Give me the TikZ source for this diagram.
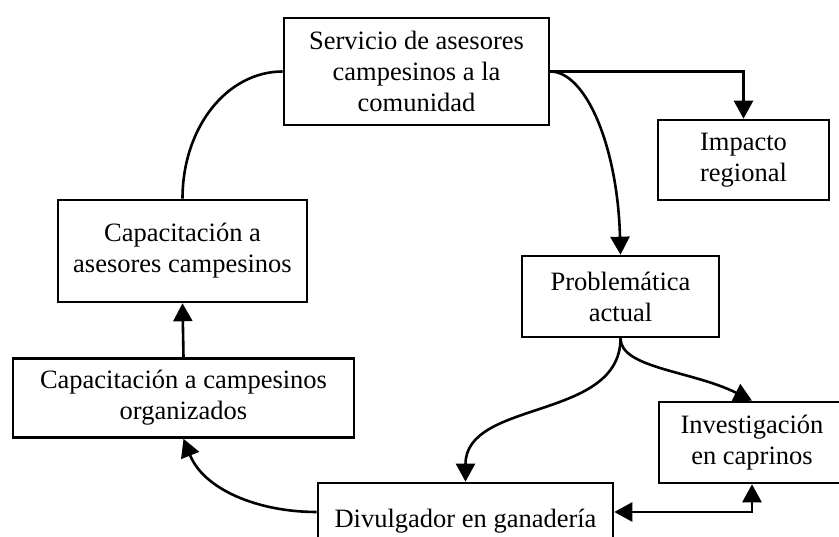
\documentclass[tikz,border=0pt]{standalone}
\usepackage{fontspec}
\setmainfont{Liberation Serif}
\usetikzlibrary{arrows.meta}
\tikzset{
  box/.style={draw=black, line width=2.6pt, rectangle, align=center, inner sep=0pt,
    font=\fontsize{26.5}{31}\selectfont},
  conn/.style={line width=2.6pt, draw=black},
  tip/.style={-{Triangle[length=18pt,width=19pt]}},
  tips/.style={{Triangle[length=18pt,width=19pt]}-{Triangle[length=18pt,width=19pt]}}
}
\begin{document}
\begin{tikzpicture}[x=1pt,y=1pt]
\useasboundingbox (0,0) rectangle (839,537);
\clip (0,0) rectangle (839,537);
\fill[white] (0,0) rectangle (839,537);
\node[box, minimum width=265pt, minimum height=107pt] (serv) at (416.5,465.5) {Servicio de asesores\\campesinos a la\\comunidad};
\node[box, minimum width=171pt, minimum height=80pt] (imp) at (743.5,377) {Impacto\\regional};
\node[box, minimum width=197pt, minimum height=81pt] (prob) at (620.5,240.5) {Problemática\\actual};
\node[box, minimum width=249pt, minimum height=102pt] (capa) at (182.5,286) {Capacitación a\\asesores campesinos};
\node[box, minimum width=341pt, minimum height=79pt] (capo) at (183.5,139) {Capacitación a campesinos\\organizados};
\node[box, minimum width=186pt, minimum height=81pt] (inv) at (752,94.5) {Investigación\\en caprinos};
\node[box, minimum width=295pt, minimum height=76pt] (div) at (465.5,16) {Divulgador en ganadería};

\draw[conn, tip] (serv.east) -| (imp.north);
\draw[conn, tip] (serv.east) .. controls +(35,0) and +(-3,110) .. (prob.north);
\draw[conn] (serv.west) .. controls +(-56,0) and +(0,71) .. (capa.north);
\draw[conn, tip] (capo.north) -- (capa.south);
\draw[conn, tip] (prob.south) to[out=-90,in=90] (div.north);
\draw[conn, tip] (prob.south) .. controls +(0,-30) and +(-60,30) .. (inv.north);
\draw[conn, tips] ([yshift=9pt]div.east) -| (inv.south);
\draw[conn, tip] ([yshift=9pt]div.west) .. controls +(-60,0) and +(20,-50) .. (capo.south);
\end{tikzpicture}
\end{document}
